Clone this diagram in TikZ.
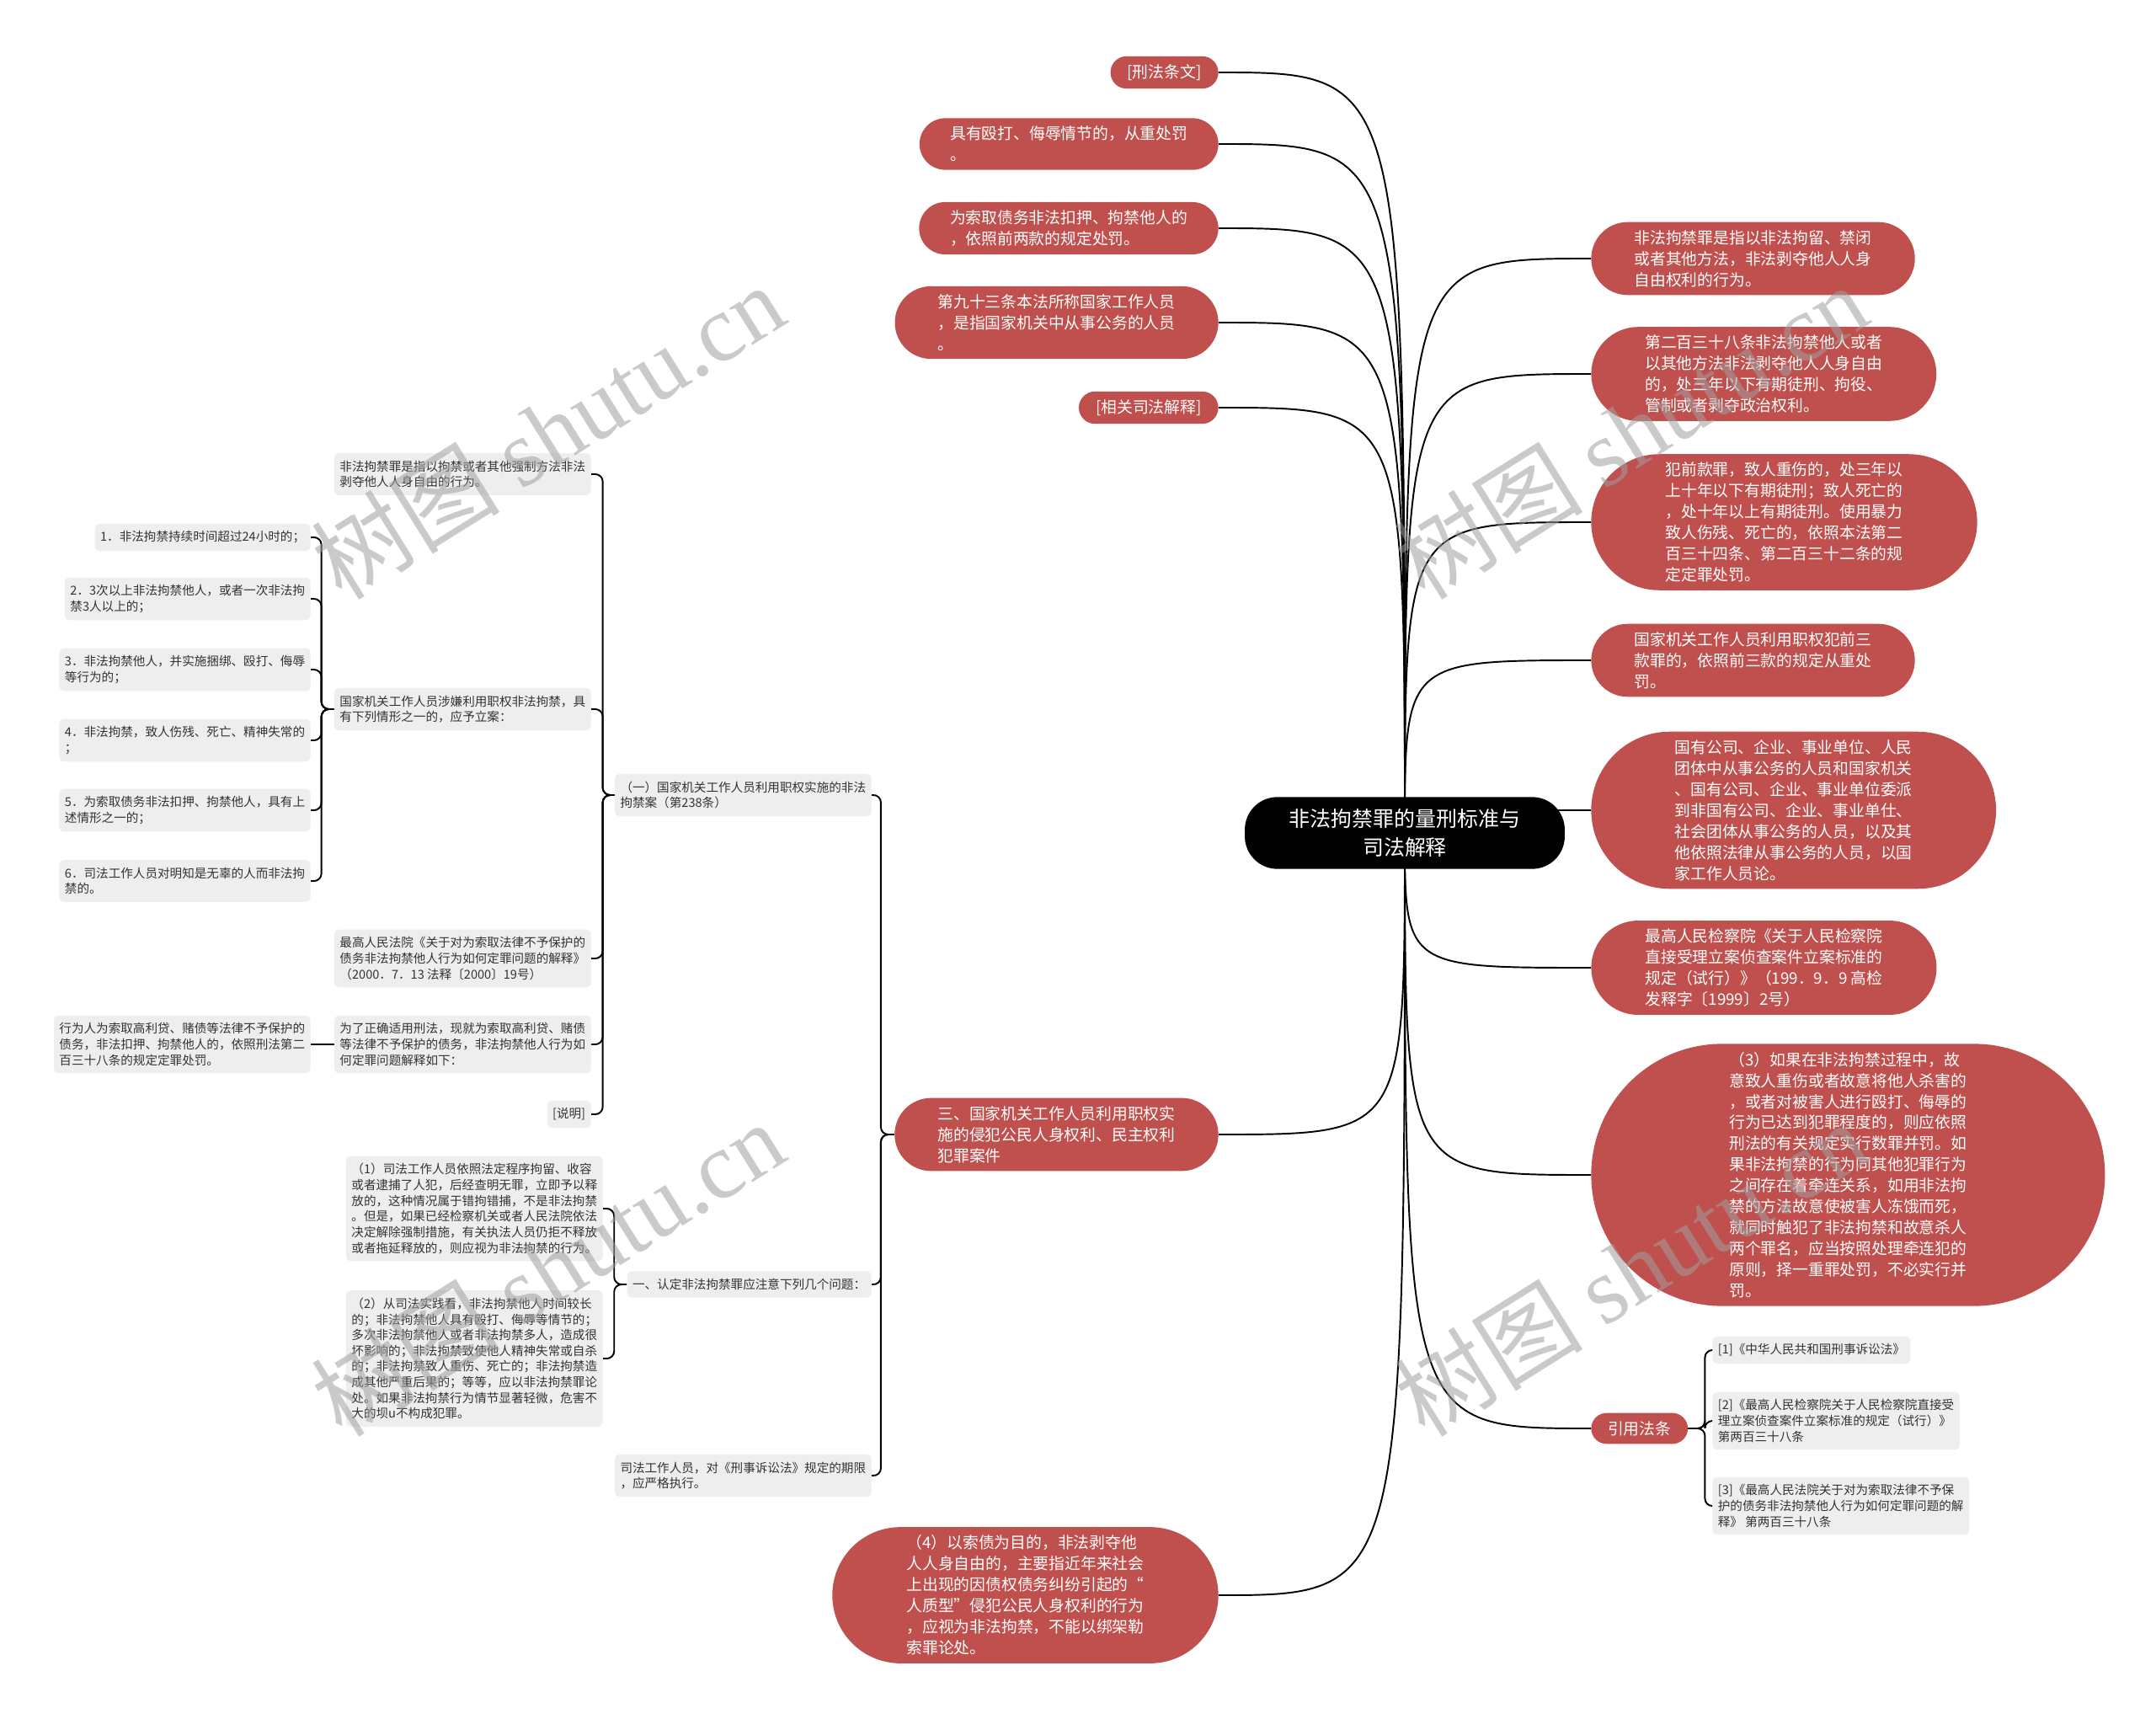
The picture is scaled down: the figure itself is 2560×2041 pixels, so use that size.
\documentclass[tikz,border=0pt]{standalone}
\usepackage{fontspec}
\setmainfont{Noto Sans CJK SC}
\newfontfamily\wmfont{Liberation Serif}
\usetikzlibrary{shapes.misc,backgrounds}
\definecolor{boxred}{RGB}{192,80,77}
\definecolor{boxgrey}{RGB}{238,238,238}
\definecolor{textgrey}{RGB}{51,51,51}
\definecolor{wmgrey}{RGB}{160,160,160}
\begin{document}
\begin{tikzpicture}[x=0.02cm, y=-0.02cm,
  root/.style={fill=black, text=white, rounded corners=22pt, align=center, font=\fontsize{14.2}{19.4}\selectfont, inner xsep=30pt, inner ysep=8pt},
  redpill/.style={rounded rectangle, fill=boxred, text=white, align=left, font=\fontsize{10.7}{14.2}\selectfont, inner xsep=#1, inner ysep=5.5pt},
  redpill/.default=10pt,
  greynote/.style={fill=boxgrey, text=textgrey, rounded corners=3pt, align=left, font=\fontsize{8.3}{10.6}\selectfont, inner xsep=3.7pt, inner ysep=5pt},
  link/.style={line width=1.1pt},
  bracket/.style={line width=1.1pt, rounded corners=5pt},
  wmark/.style={text=wmgrey, text opacity=0.55, rotate=32, font=\fontsize{64}{64}\selectfont}]
\useasboundingbox (0,0) rectangle (2560,2041);
\node[root] (r) at (1668,989) {非法拘禁罪的量刑标准与\\司法解释};
\node[redpill, anchor=east] (xf) at (1447,86) {[刑法条文]};
\node[redpill=16pt, anchor=east] (cz) at (1447,171) {具有殴打、侮辱情节的，从重处罚\\。};
\node[redpill=16pt, anchor=east] (sz) at (1447,271) {为索取债务非法扣押、拘禁他人的\\，依照前两款的规定处罚。};
\node[redpill=20pt, anchor=east] (d93) at (1447,383) {第九十三条本法所称国家工作人员\\，是指国家机关中从事公务的人员\\。};
\node[redpill, anchor=east] (xg) at (1447,484) {[相关司法解释]};
\node[redpill=20pt, anchor=east] (s3) at (1447,1347) {三、国家机关工作人员利用职权实\\施的侵犯公民人身权利、民主权利\\犯罪案件};
\node[redpill=26pt, anchor=east] (p4) at (1447,1894) {（4）以索债为目的，非法剥夺他\\人人身自由的，主要指近年来社会\\上出现的因债权债务纠纷引起的“\\人质型”侵犯公民人身权利的行为\\，应视为非法拘禁，不能以绑架勒\\索罪论处。};
\node[redpill=20pt, anchor=west] (dy) at (1889,307) {非法拘禁罪是指以非法拘留、禁闭\\或者其他方法，非法剥夺他人人身\\自由权利的行为。};
\node[redpill=22.5pt, anchor=west] (t238) at (1889,444) {第二百三十八条非法拘禁他人或者\\以其他方法非法剥夺他人人身自由\\的，处三年以下有期徒刑、拘役、\\管制或者剥夺政治权利。};
\node[redpill=26pt, anchor=west] (fq) at (1889,620) {犯前款罪，致人重伤的，处三年以\\上十年以下有期徒刑；致人死亡的\\，处十年以上有期徒刑。使用暴力\\致人伤残、死亡的，依照本法第二\\百三十四条、第二百三十二条的规\\定定罪处罚。};
\node[redpill=20pt, anchor=west] (gj) at (1889,784) {国家机关工作人员利用职权犯前三\\款罪的，依照前三款的规定从重处\\罚。};
\node[redpill=27pt, anchor=west] (gy) at (1889,962) {国有公司、企业、事业单位、人民\\团体中从事公务的人员和国家机关\\、国有公司、企业、事业单位委派\\到非国有公司、企业、事业单仕、\\社会团体从事公务的人员，以及其\\他依照法律从事公务的人员，以国\\家工作人员论。};
\node[redpill=22.5pt, anchor=west] (jc) at (1889,1149) {最高人民检察院《关于人民检察院\\直接受理立案侦查案件立案标准的\\规定（试行）》（199．9．9 高检\\发释字〔1999〕2号）};
\node[redpill=35.5pt, anchor=west] (p3) at (1889,1395) {（3）如果在非法拘禁过程中，故\\意致人重伤或者故意将他人杀害的\\，或者对被害人进行殴打、侮辱的\\行为已达到犯罪程度的，则应依照\\刑法的有关规定实行数罪并罚。如\\果非法拘禁的行为同其他犯罪行为\\之间存在着牵连关系，如用非法拘\\禁的方法故意使被害人冻饿而死，\\就同时触犯了非法拘禁和故意杀人\\两个罪名，应当按照处理牵连犯的\\原则，择一重罪处罚，不必实行并\\罚。};
\node[redpill, anchor=west] (yy) at (1889,1696) {引用法条};
\node[greynote, anchor=west] (f1) at (2033,1603) {[1]《中华人民共和国刑事诉讼法》};
\node[greynote, anchor=west] (f2) at (2033,1687) {[2]《最高人民检察院关于人民检察院直接受\\理立案侦查案件立案标准的规定（试行）》\\第两百三十八条};
\node[greynote, anchor=west] (f3) at (2033,1788) {[3]《最高人民法院关于对为索取法律不予保\\护的债务非法拘禁他人行为如何定罪问题的解\\释》 第两百三十八条};
\node[greynote, anchor=east] (a1) at (1035,944) {（一）国家机关工作人员利用职权实施的非法\\拘禁案（第238条）};
\node[greynote, anchor=east] (a2) at (1035,1525) {一、认定非法拘禁罪应注意下列几个问题：};
\node[greynote, anchor=east] (a3) at (1035,1752) {司法工作人员，对《刑事诉讼法》规定的期限\\，应严格执行。};
\node[greynote, anchor=east] (b1) at (702,563) {非法拘禁罪是指以拘禁或者其他强制方法非法\\剥夺他人人身自由的行为。};
\node[greynote, anchor=east] (b2) at (702,842) {国家机关工作人员涉嫌利用职权非法拘禁，具\\有下列情形之一的，应予立案：};
\node[greynote, anchor=east] (b3) at (702,1138) {最高人民法院《关于对为索取法律不予保护的\\债务非法拘禁他人行为如何定罪问题的解释》\\（2000．7．13 法释〔2000〕19号）};
\node[greynote, anchor=east] (b4) at (702,1240) {为了正确适用刑法，现就为索取高利贷、赌债\\等法律不予保护的债务，非法拘禁他人行为如\\何定罪问题解释如下：};
\node[greynote, anchor=east] (b5) at (702,1323) {[说明]};
\node[greynote, anchor=east] (c1) at (369,638) {1．非法拘禁持续时间超过24小时的；};
\node[greynote, anchor=east] (c2) at (369,711) {2．3次以上非法拘禁他人，或者一次非法拘\\禁3人以上的；};
\node[greynote, anchor=east] (c3) at (369,795) {3．非法拘禁他人，并实施捆绑、殴打、侮辱\\等行为的；};
\node[greynote, anchor=east] (c4) at (369,879) {4．非法拘禁，致人伤残、死亡、精神失常的\\；};
\node[greynote, anchor=east] (c5) at (369,962) {5．为索取债务非法扣押、拘禁他人，具有上\\述情形之一的；};
\node[greynote, anchor=east] (c6) at (369,1046) {6．司法工作人员对明知是无辜的人而非法拘\\禁的。};
\node[greynote, anchor=east] (d1) at (369,1240) {行为人为索取高利贷、赌债等法律不予保护的\\债务，非法扣押、拘禁他人的，依照刑法第二\\百三十八条的规定定罪处罚。};
\node[greynote, anchor=east] (e1) at (716,1435) {（1）司法工作人员依照法定程序拘留、收容\\或者逮捕了人犯，后经查明无罪，立即予以释\\放的，这种情况属于错拘错捕，不是非法拘禁\\。但是，如果已经检察机关或者人民法院依法\\决定解除强制措施，有关执法人员仍拒不释放\\或者拖延释放的，则应视为非法拘禁的行为。};
\node[greynote, anchor=east] (e2) at (716,1613) {（2）从司法实践看，非法拘禁他人时间较长\\的；非法拘禁他人具有殴打、侮辱等情节的；\\多次非法拘禁他人或者非法拘禁多人，造成很\\坏影响的；非法拘禁致使他人精神失常或自杀\\的；非法拘禁致人重伤、死亡的；非法拘禁造\\成其他严重后果的；等等，应以非法拘禁罪论\\处。如果非法拘禁行为情节显著轻微，危害不\\大的坝u不构成犯罪。};
\begin{scope}[on background layer]
\fill[white] (0,0) rectangle (2560,2041);
\foreach \n in {xf,cz,sz,d93,xg,s3,p4}
  \draw[link] (r.center) .. controls (r.center |- \n.east) .. (\n.east);
\foreach \n in {dy,t238,fq,gj,gy,jc,p3,yy}
  \draw[link] (r.center) .. controls (r.center |- \n.west) .. (\n.west);
\foreach \n in {f1,f2,f3}
  \draw[bracket] (yy.east) -- ++(20,0) |- (\n.west);
\foreach \n in {a1,a2,a3}
  \draw[bracket] (s3.west) -- ++(-16,0) |- (\n.east);
\foreach \n in {b1,b2,b3,b4,b5}
  \draw[bracket] (a1.west) -- ++(-14,0) |- (\n.east);
\foreach \n in {c1,c2,c3,c4,c5,c6}
  \draw[bracket] (b2.west) -- ++(-15,0) |- (\n.east);
\foreach \n in {e1,e2}
  \draw[bracket] (a2.west) -- ++(-15,0) |- (\n.east);
\draw[link] (b4.west) -- (d1.east);
\end{scope}
\node[wmark] (w1) at (650,512) {树图 {\wmfont shutu.cn}};
\node[wmark] (w2) at (1936,512) {树图 {\wmfont shutu.cn}};
\node[wmark] (w3) at (650,1506) {树图 {\wmfont shutu.cn}};
\node[wmark] (w4) at (1936,1506) {树图 {\wmfont shutu.cn}};
\end{tikzpicture}
\end{document}
